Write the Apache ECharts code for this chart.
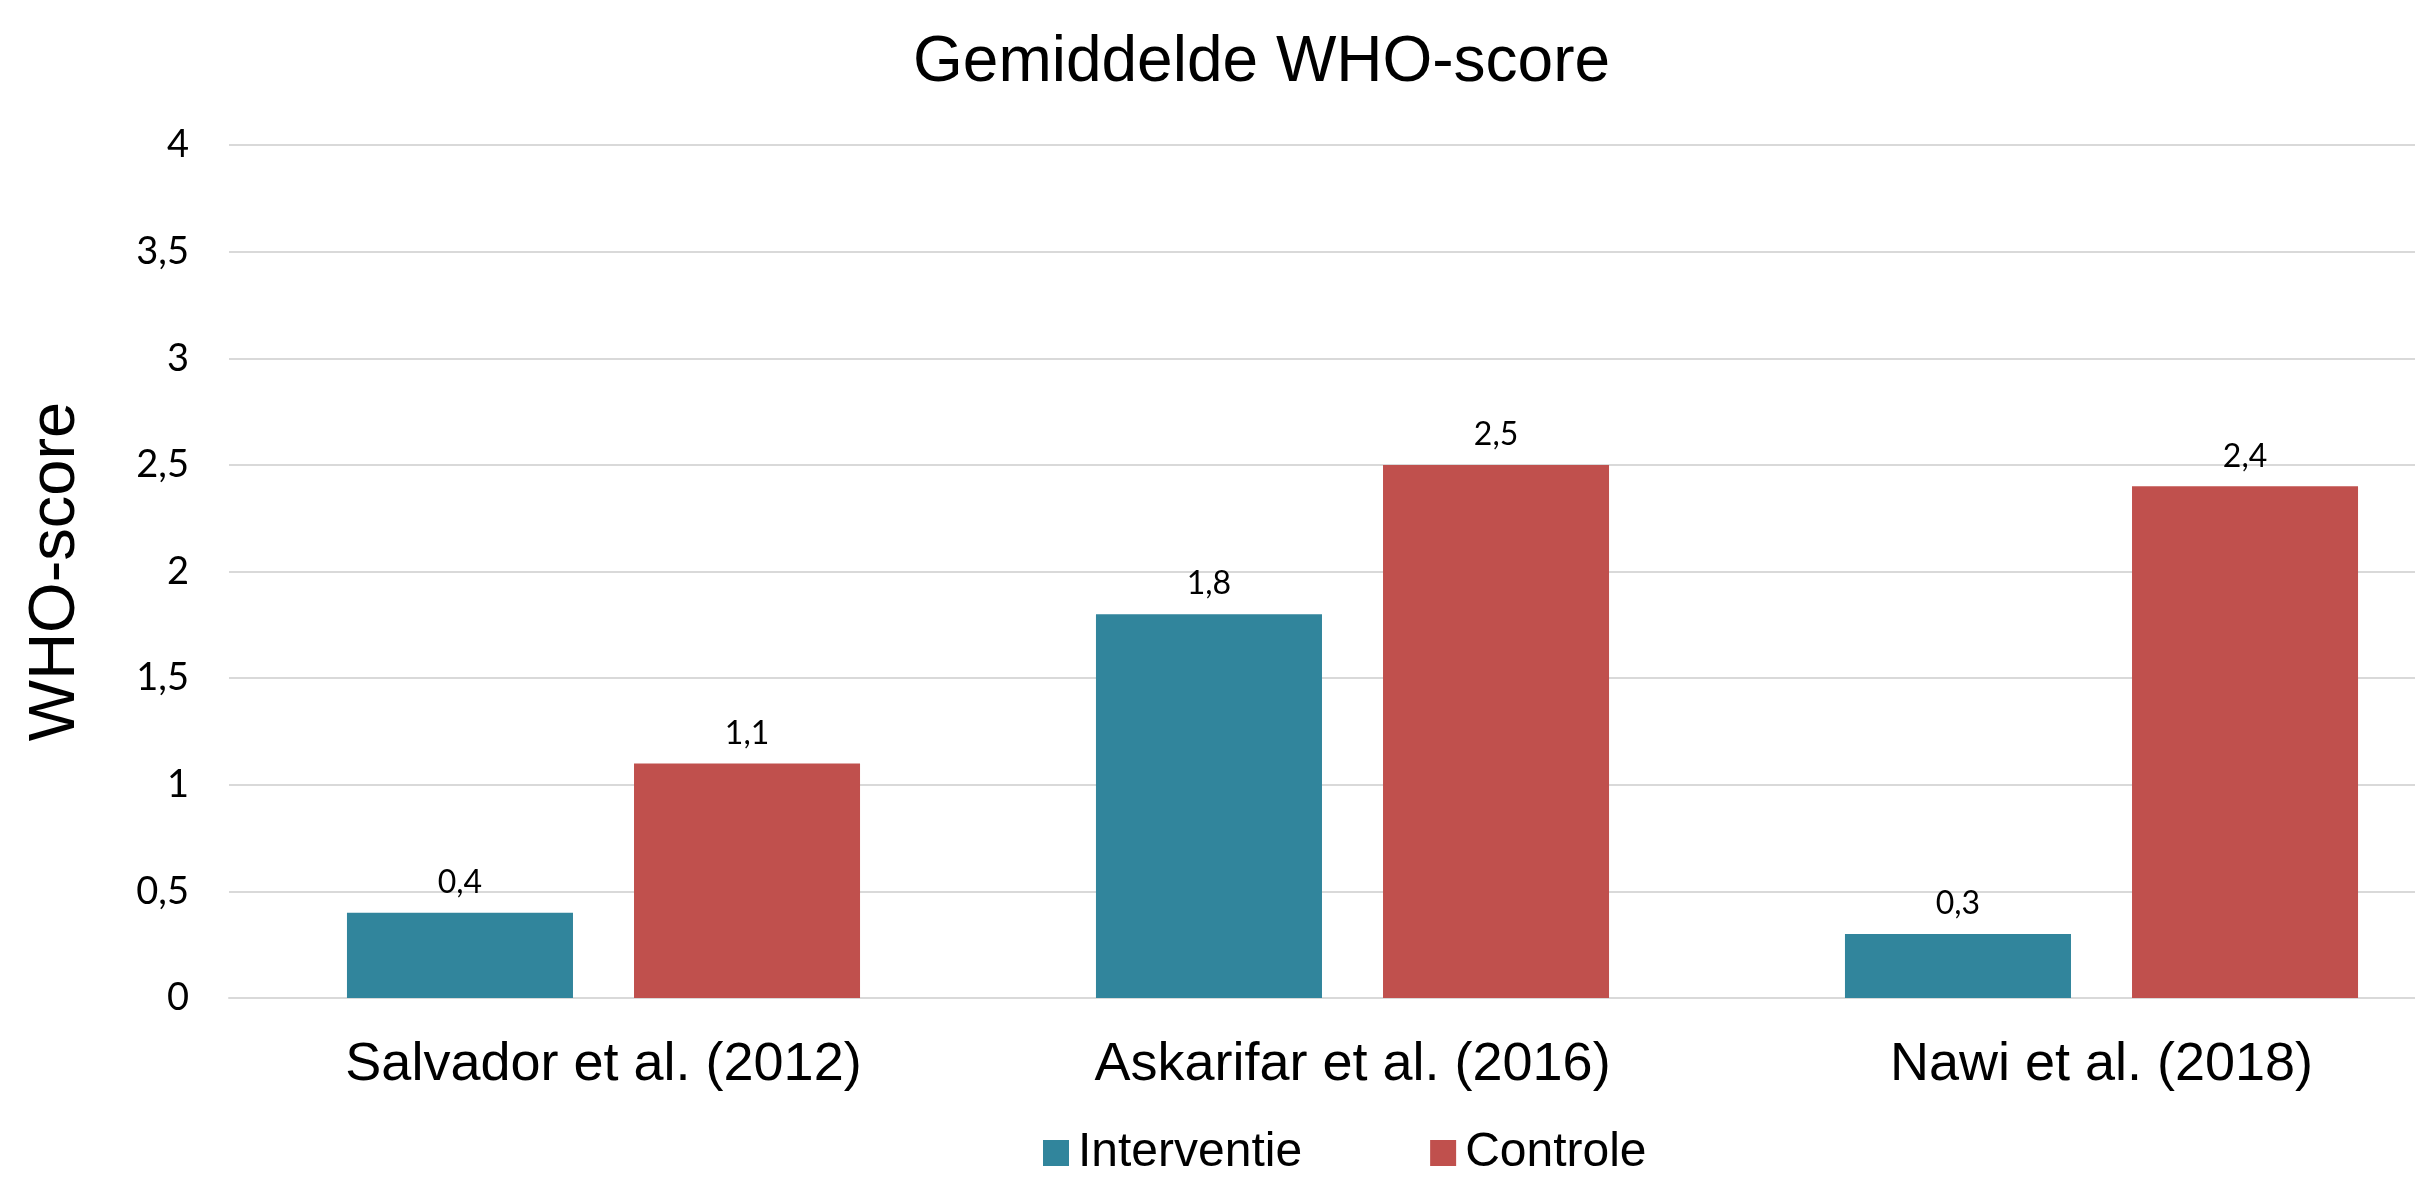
<!DOCTYPE html>
<html>
<head>
<meta charset="utf-8">
<script src="https://cdn.jsdelivr.net/npm/echarts@6/dist/echarts.min.js"></script>
<style>
  html, body { margin: 0; padding: 0; background: #fff; }
  #chart { width: 2415px; height: 1179px; }
</style>
</head>
<body>
<div id="chart"></div>
<script>
// studies on the x axis
const categories = ['Salvador et al. (2012)', 'Askarifar et al. (2016)', 'Nawi et al. (2018)'];
const interventie = [0.4, 1.8, 0.3];
const controle = [1.1, 2.5, 2.4];
const seriesNames = ['Interventie', 'Controle'];

// dutch notation: comma as decimal separator
const komma = v => String(v).replace('.', ',');

const chart = echarts.init(document.getElementById('chart'));

const labelStyle = {
  show: true,
  position: 'top',
  distance: 14,
  fontFamily: 'Lato',
  fontSize: 32,
  color: '#000',
  formatter: p => komma(p.value)
};

chart.setOption({
  backgroundColor: '#fff',
  animation: false,
  title: {
    text: 'Gemiddelde WHO-score',
    left: 908,
    top: 26,
    textStyle: { fontFamily: 'Liberation Sans', fontSize: 64, fontWeight: 'normal', color: '#000' }
  },
  legend: {
    data: seriesNames,
    top: 1124,
    left: 1038,
    itemWidth: 26,
    itemHeight: 26,
    itemGap: 128,
    icon: 'rect',
    textStyle: { fontFamily: 'Liberation Sans', fontSize: 48, color: '#000', padding: [0, 0, 0, 4] }
  },
  // the plot runs on past the right edge of the picture, as in the original crop
  grid: { left: 229, top: 145, width: 2247, bottom: 181, outerBoundsMode: 'none', containLabel: false },
  xAxis: {
    type: 'category',
    data: categories,
    axisLine: { lineStyle: { color: '#d9d9d9', width: 2 } },
    axisTick: { show: false },
    axisLabel: { fontFamily: 'Liberation Sans', fontSize: 54, color: '#000', margin: 40 }
  },
  yAxis: {
    type: 'value',
    min: 0,
    max: 4,
    interval: 0.5,
    name: 'WHO-score',
    nameLocation: 'middle',
    nameGap: 140,
    nameTextStyle: { fontFamily: 'Liberation Sans', fontSize: 65, color: '#000' },
    axisLine: { show: false },
    axisTick: { show: false },
    splitLine: { lineStyle: { color: '#d9d9d9', width: 2 } },
    axisLabel: { fontFamily: 'Lato', fontSize: 38, color: '#000', margin: 40, formatter: komma }
  },
  series: [
    {
      name: seriesNames[0],
      type: 'bar',
      data: interventie,
      barGap: '27%',
      barCategoryGap: '31.5%',
      itemStyle: { color: '#31859c' },
      label: labelStyle
    },
    {
      name: seriesNames[1],
      type: 'bar',
      data: controle,
      itemStyle: { color: '#c0504d' },
      label: labelStyle
    }
  ]
});
</script>
</body>
</html>
